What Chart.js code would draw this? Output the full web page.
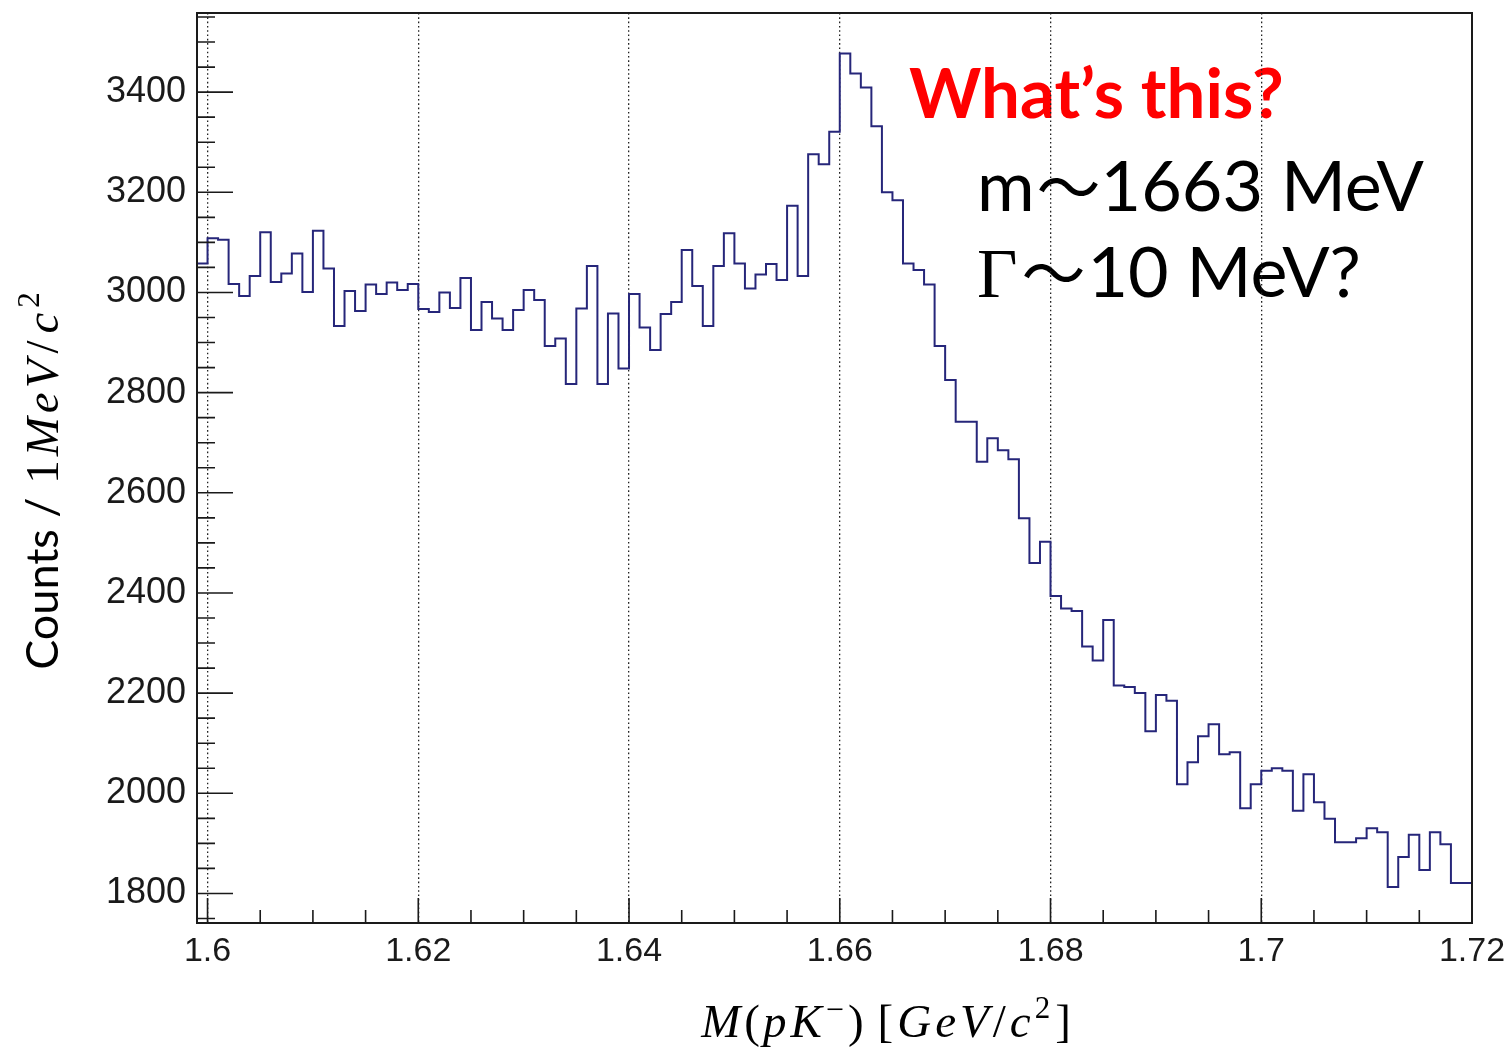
<!DOCTYPE html>
<html>
<head>
<meta charset="utf-8">
<script src="https://cdn.jsdelivr.net/npm/chart.js@4.4.1/dist/chart.umd.min.js"></script>
<style>
  html, body { margin: 0; padding: 0; background: #ffffff; overflow: hidden; }
  #wrap { position: relative; width: 1511px; height: 1048px; }
  canvas { display: block; }
</style>
</head>
<body>
<div id="wrap"><canvas id="spectrum" width="1511" height="1048"></canvas></div>
<script>
// Invariant-mass spectrum M(pK-), 1 MeV/c^2 bins starting at 1.599 GeV/c^2
const massLow = 1.599;
const massHigh = 1.72;
const binWidth = 0.001;

const counts = [
  3098, 3058, 3108, 3105, 3017, 2993, 3033, 3120, 3021, 3038,
  3078, 3001, 3123, 3048, 2933, 3003, 2963, 3016, 2997, 3020,
  3005, 3017, 2967, 2961, 3000, 2969, 3029, 2925, 2981, 2948,
  2925, 2965, 3005, 2985, 2893, 2908, 2817, 2968, 3053, 2817,
  2958, 2848, 2997, 2930, 2885, 2957, 2981, 3085, 3013, 2933,
  3053, 3118, 3058, 3008, 3036, 3057, 3025, 3173, 3033, 3276,
  3256, 3321, 3477, 3437, 3409, 3332, 3200, 3184, 3058, 3045,
  3016, 2893, 2825, 2742, 2742, 2662, 2709, 2685, 2667, 2549,
  2460, 2502, 2394, 2369, 2364, 2293, 2265, 2346, 2215, 2212,
  2200, 2124, 2196, 2185, 2018, 2062, 2114, 2138, 2078, 2082,
  1970, 2018, 2045, 2050, 2045, 1965, 2038, 1982, 1949, 1902,
  1902, 1910, 1930, 1922, 1813, 1873, 1917, 1847, 1922, 1898,
  1821
];

const xTicks = [1.6, 1.62, 1.64, 1.66, 1.68, 1.7, 1.72];
const xTickLabels = ['1.6', '1.62', '1.64', '1.66', '1.68', '1.7', '1.72'];
const xMinorStep = 0.005;

const yTicks = [1800, 2000, 2200, 2400, 2600, 2800, 3000, 3200, 3400];
const yTickLabels = ['1800', '2000', '2200', '2400', '2600', '2800', '3000', '3200', '3400'];
const yMinorStep = 50;
const yMin = 1741;
const yMax = 3558;

// Histogram outline: one point per lower bin edge, plus the upper edge of the last bin
const points = counts.map((c, k) => ({ x: massLow + k * binWidth, y: c }));
points.push({ x: massHigh, y: counts[counts.length - 1] });

const lineColor = '#26267a';
const axisColor = '#1a1a1a';

// Text runs made of pieces with their own font, vertical offset and trailing gap
function richWidth(ctx, parts) {
  let w = 0;
  parts.forEach(p => { ctx.font = p.font; w += ctx.measureText(p.text).width + (p.gap || 0); });
  return w;
}
function drawRich(ctx, parts, x, y, align) {
  let cx = x;
  if (align === 'center') cx = x - richWidth(ctx, parts) / 2;
  parts.forEach(p => {
    ctx.font = p.font;
    ctx.fillText(p.text, cx, y + (p.dy || 0));
    cx += ctx.measureText(p.text).width + (p.gap || 0);
  });
}

const serifIt = s => `italic ${s}px "Liberation Serif"`;
const serif = s => `${s}px "Liberation Serif"`;

const xTitle = [
  { text: 'M', font: serifIt(47), gap: 4 },
  { text: '(', font: serif(47), gap: 3 },
  { text: 'p', font: serifIt(47), gap: 4 },
  { text: 'K', font: serifIt(47), gap: 4 },
  { text: '\u2212', font: serif(32), dy: -17, gap: 4 },
  { text: ')', font: serif(47), gap: 14 },
  { text: '[', font: serif(47), gap: 4 },
  { text: 'G', font: serifIt(47), gap: 4 },
  { text: 'e', font: serifIt(47), gap: 4 },
  { text: 'V', font: serifIt(47), gap: 4 },
  { text: '/', font: serif(47), gap: 4 },
  { text: 'c', font: serifIt(47), gap: 4 },
  { text: '2', font: serif(31), dy: -19, gap: 5 },
  { text: ']', font: serif(47) }
];

const yTitle = [
  { text: 'Counts / ', font: '45px Lato', gap: 2 },
  { text: '1', font: serif(47), gap: 4 },
  { text: 'M', font: serifIt(47), gap: 4 },
  { text: 'e', font: serifIt(47), gap: 4 },
  { text: 'V', font: serifIt(47), gap: 6 },
  { text: '/', font: serif(47), gap: 7 },
  { text: 'c', font: serifIt(47), gap: 5 },
  { text: '2', font: serif(31), dy: -19 }
];

// Annotation text, painted underneath the grid
const notes = {
  id: 'notes',
  beforeDraw(chart) {
    const ctx = chart.ctx;
    ctx.save();
    ctx.textBaseline = 'alphabetic';
    ctx.textAlign = 'left';
    ctx.fillStyle = '#ff0000';
    drawRich(ctx, [{ text: 'What\u2019s this?', font: 'bold 69px Lato' }], 909, 118, 'left');
    ctx.fillStyle = '#000000';
    drawRich(ctx, [
      { text: 'm', font: '70px Lato', gap: 2 },
      { text: '\uFF5E', font: '64px "Noto Sans CJK JP"' },
      { text: '1663 MeV', font: '70px Lato' }
    ], 977, 211, 'left');
    drawRich(ctx, [
      { text: '\u0393', font: '70px "Liberation Serif"', gap: 4 },
      { text: '\uFF5E', font: '64px "Noto Sans CJK JP"', gap: 2 },
      { text: '10 MeV?', font: '70px Lato' }
    ], 977, 297, 'left');
    ctx.restore();
  }
};

// Frame, inward tick marks and axis titles
const frame = {
  id: 'frame',
  afterDatasetsDraw(chart) {
    const { ctx, chartArea: a, scales: { x, y } } = chart;
    ctx.save();
    ctx.strokeStyle = axisColor;
    ctx.lineWidth = 1.6;
    ctx.beginPath();
    const nx = Math.round((massHigh - xTicks[0]) / xMinorStep);
    for (let i = 0; i <= nx; i++) {
      const v = xTicks[0] + i * xMinorStep;
      const px = x.getPixelForValue(v);
      const len = (i % 4 === 0) ? 25 : 13;
      ctx.moveTo(px, a.bottom);
      ctx.lineTo(px, a.bottom - len);
    }
    const y0 = Math.ceil(yMin / yMinorStep) * yMinorStep;
    for (let v = y0; v <= yMax; v += yMinorStep) {
      const py = y.getPixelForValue(v);
      const len = (v % 200 === 0) ? 36 : 18;
      ctx.moveTo(a.left, py);
      ctx.lineTo(a.left + len, py);
    }
    ctx.stroke();
    ctx.lineWidth = 2;
    ctx.strokeRect(a.left, a.top, a.right - a.left, a.bottom - a.top);

    // axis titles
    ctx.fillStyle = '#000000';
    ctx.textBaseline = 'alphabetic';
    drawRich(ctx, xTitle, 886, 1037, 'center');
    ctx.translate(58, 481);
    ctx.rotate(-Math.PI / 2);
    drawRich(ctx, yTitle, 0, 0, 'center');
    ctx.restore();
  }
};

new Chart(document.getElementById('spectrum'), {
  type: 'line',
  data: {
    datasets: [{
      data: points,
      stepped: 'after',
      borderColor: lineColor,
      borderWidth: 2,
      pointRadius: 0,
      fill: false
    }]
  },
  options: {
    responsive: false,
    animation: false,
    devicePixelRatio: 1,
    layout: { padding: { left: 0, right: 39, top: 13, bottom: 0 } },
    plugins: { legend: { display: false }, tooltip: { enabled: false } },
    scales: {
      x: {
        type: 'linear',
        min: massLow,
        max: massHigh,
        afterBuildTicks: s => { s.ticks = xTicks.map(v => ({ value: v })); },
        afterFit: s => { s.height = 125; s.paddingLeft = 0; s.paddingRight = 0; },
        grid: { display: true, drawTicks: false, color: '#222222', lineWidth: 1.3 },
        border: { display: false, dash: [1.6, 2.7] },
        ticks: {
          padding: 8,
          autoSkip: false,
          maxRotation: 0,
          color: axisColor,
          font: { family: 'Liberation Sans', size: 34 },
          callback: (v, i) => xTickLabels[i]
        }
      },
      y: {
        type: 'linear',
        min: yMin,
        max: yMax,
        afterBuildTicks: s => { s.ticks = yTicks.map(v => ({ value: v })); },
        afterFit: s => { s.width = 197; s.paddingTop = 0; s.paddingBottom = 0; },
        grid: { display: false, drawTicks: false },
        border: { display: false },
        ticks: {
          padding: 11,
          color: axisColor,
          font: { family: 'Liberation Sans', size: 36 },
          callback: (v, i) => yTickLabels[i]
        }
      }
    }
  },
  plugins: [notes, frame]
});
</script>
</body>
</html>
